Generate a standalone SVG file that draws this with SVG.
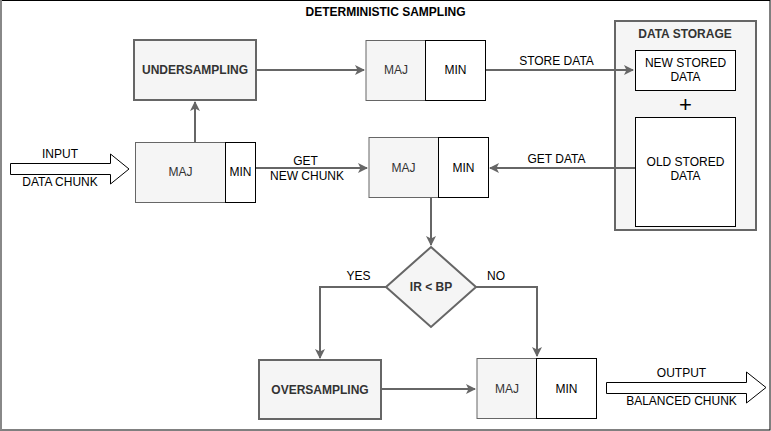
<svg xmlns="http://www.w3.org/2000/svg" width="771" height="431" viewBox="0 0 771 431">
<defs>
<style>
text{font-family:"Liberation Sans",Arial,sans-serif;font-size:12px;text-anchor:middle;fill:#000}
.b{font-weight:bold;fill:#333}
.g{fill:#333}
.proc{fill:#f5f5f5;stroke:#666;stroke-width:2}
.maj{fill:#f5f5f5;stroke:#666;stroke-width:1}
.min{fill:#fff;stroke:#000;stroke-width:1}
.wb{fill:#fff;stroke:#000;stroke-width:1}
.c{fill:none;stroke:#666;stroke-width:2}
.fat{fill:#fff;stroke:#000;stroke-width:1}
</style>
<marker id="ah" viewBox="0 0 10 10" refX="9" refY="5" markerWidth="5" markerHeight="5" orient="auto" markerUnits="strokeWidth">
<path d="M0,0 L10,5 L0,10 L2.5,5 Z" fill="#666"/>
</marker>
</defs>
<rect x="0.5" y="0.5" width="769.5" height="429.5" fill="#fff" stroke="#000" stroke-width="1"/>
<line x1="1" y1="0" x2="1" y2="430" stroke="#888" stroke-width="2"/>
<text class="b" x="385.5" y="16" style="fill:#000">DETERMINISTIC SAMPLING</text>

<g id="storage">
<rect class="proc" x="615" y="21" width="141" height="209"/>
<text class="b" x="685" y="38">DATA STORAGE</text>
</g>
<g id="new-stored">
<rect class="wb" x="635.5" y="50.5" width="100" height="40"/>
<text x="685.5" y="67">NEW STORED</text>
<text x="685.5" y="81">DATA</text>
</g>
<text x="685.5" y="112" style="font-size:22px">+</text>
<g id="old-stored">
<rect class="wb" x="635.5" y="117.5" width="100" height="109"/>
<text x="685.5" y="166">OLD STORED</text>
<text x="685.5" y="180">DATA</text>
</g>

<g id="input">
<path class="fat" d="M10.5,163.5 L110.5,163.5 L110.5,154 L129,169 L110.5,184 L110.5,174.5 L10.5,174.5 Z"/>
<text x="60" y="158">INPUT</text>
<text x="60" y="186">DATA CHUNK</text>
</g>

<g id="chunk">
<rect class="maj" x="135.5" y="142.5" width="90" height="60"/>
<rect class="min" x="225.5" y="142.5" width="30" height="60"/>
<text class="g" x="180.5" y="176">MAJ</text>
<text x="240.5" y="176">MIN</text>
</g>

<g id="undersampling">
<rect class="proc" x="134" y="40" width="122" height="60"/>
<text class="b" x="195" y="74">UNDERSAMPLING</text>
</g>

<g id="under-result">
<rect class="maj" x="366" y="40.5" width="60" height="60"/>
<rect class="min" x="425.5" y="40.5" width="60" height="60"/>
<text class="g" x="396" y="74">MAJ</text>
<text x="455.5" y="74">MIN</text>
</g>

<g id="combined">
<rect class="maj" x="369" y="137.5" width="70" height="60"/>
<rect class="min" x="438.5" y="137.5" width="50" height="60"/>
<text class="g" x="403.5" y="172">MAJ</text>
<text x="463.5" y="172">MIN</text>
</g>

<g id="decision">
<path d="M431,247 L476,287 L431,327 L386,287 Z" fill="#f5f5f5" stroke="#666" stroke-width="2"/>
<text class="b" x="431" y="291">IR &lt; BP</text>
</g>

<g id="oversampling">
<rect class="proc" x="259" y="360" width="122" height="59"/>
<text class="b" x="320" y="394">OVERSAMPLING</text>
</g>

<g id="balanced">
<rect class="maj" x="477" y="358.5" width="60" height="60"/>
<rect class="min" x="536.5" y="358.5" width="60" height="60"/>
<text class="g" x="507" y="393">MAJ</text>
<text x="566.5" y="393">MIN</text>
</g>

<g id="output">
<path class="fat" d="M606.5,382.5 L746.5,382.5 L746.5,372 L766,387.5 L746.5,403 L746.5,393.5 L606.5,393.5 Z"/>
<text x="681.5" y="377">OUTPUT</text>
<text x="681.5" y="405">BALANCED CHUNK</text>
</g>

<g id="connectors">
<path class="c" d="M195,142 L195,102" marker-end="url(#ah)"/>
<path class="c" d="M256,70 L364,70" marker-end="url(#ah)"/>
<path class="c" d="M486,70 L633,70" marker-end="url(#ah)"/>
<path class="c" d="M256,168 L367,168" marker-end="url(#ah)"/>
<path class="c" d="M635,168 L490,168" marker-end="url(#ah)"/>
<path class="c" d="M431,198 L431,245" marker-end="url(#ah)"/>
<path class="c" d="M386,287 L320,287 L320,358" marker-end="url(#ah)"/>
<path class="c" d="M476,287 L537,287 L537,356" marker-end="url(#ah)"/>
<path class="c" d="M381,389 L475,389" marker-end="url(#ah)"/>
</g>
<text x="305.5" y="165">GET</text>
<text x="307" y="180">NEW CHUNK</text>
<text x="556.5" y="65">STORE DATA</text>
<text x="556.5" y="163">GET DATA</text>
<text x="358.5" y="280">YES</text>
<text x="496" y="280">NO</text>
</svg>
